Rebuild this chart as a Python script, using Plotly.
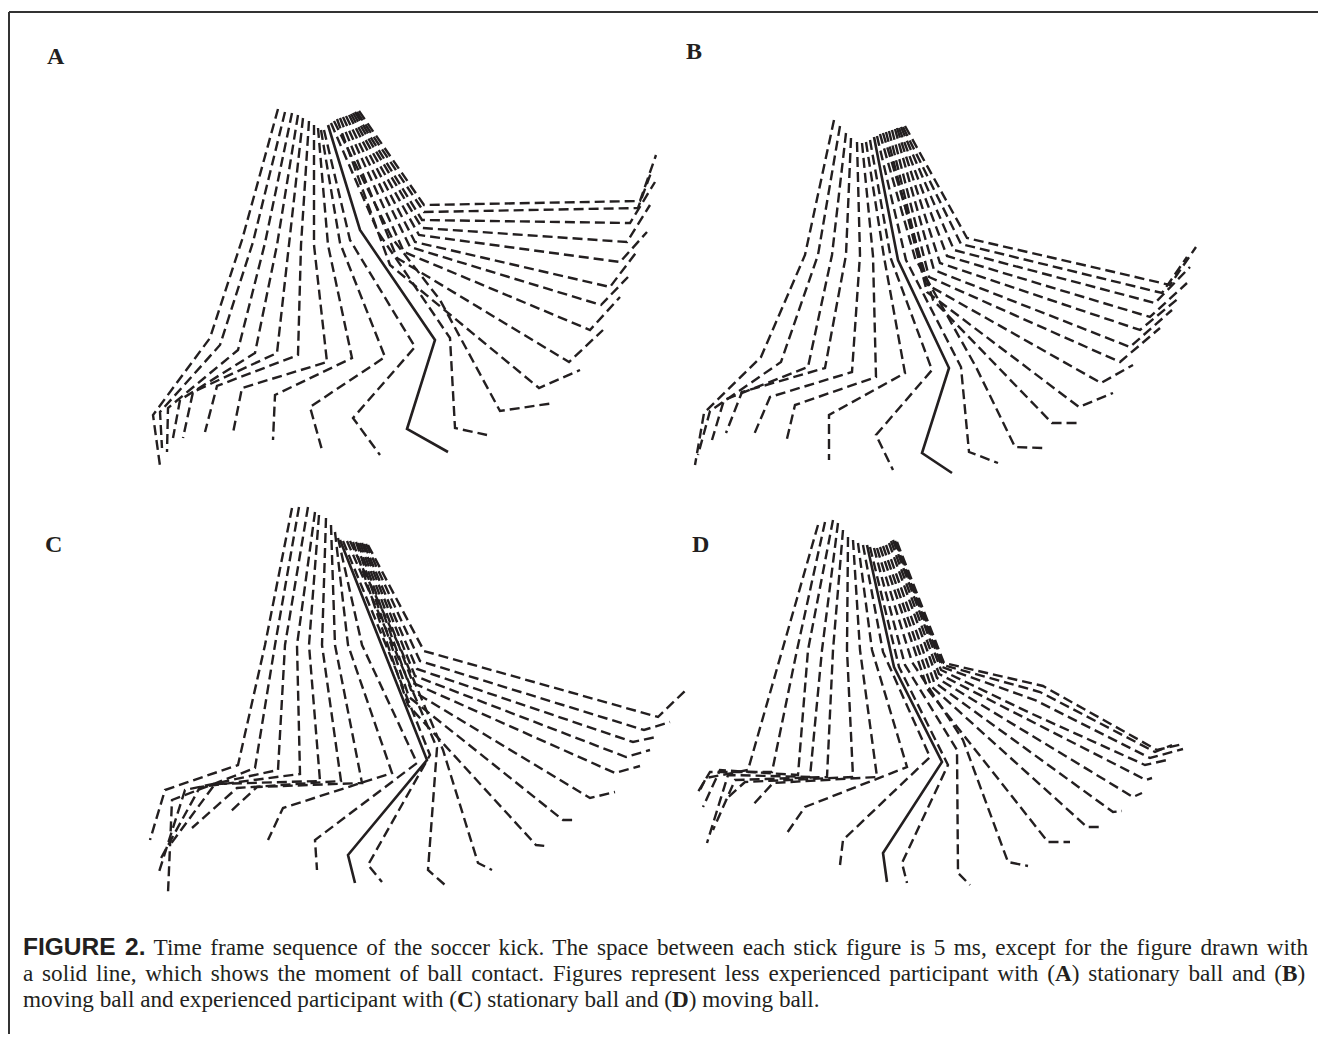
import plotly.graph_objects as go

INK = "#231f20"

# Each stick figure = polyline of joint markers (top -> toe), in drawing units.
# One list entry per time frame (5 ms apart); *_contact = frame at ball contact.

# ---------- Panel A : less experienced, stationary ball ----------
A_x = [
    [278, 242, 210, 153, 160], [285, 253, 220, 160, 162], [292, 265, 238, 168, 167],
    [298, 277, 255, 180, 173], [303, 289, 277, 193, 183], [309, 301, 298, 217, 205],
    [314, 314, 327, 242, 233], [318, 328, 352, 275, 273], [321, 340, 385, 310, 322],
    [324, 350, 415, 353, 380], [328, 360, 435, 407, 448], [331, 378, 450, 455, 487],
    [334, 392, 440, 500, 554], [337, 390, 539, 580], [340, 397, 569, 603],
    [343, 404, 590, 620], [346, 410, 601, 628], [349, 415, 610, 638],
    [351, 419, 620, 647], [353, 422, 627, 650], [355, 422, 630, 655],
    [357, 424, 638, 652], [359, 424, 640, 656],
]
A_y = [
    [109, 240, 338, 415, 466], [112, 242, 345, 412, 448], [113, 243, 350, 408, 452],
    [115, 245, 353, 400, 438], [118, 245, 353, 392, 438], [121, 245, 355, 386, 432],
    [125, 245, 362, 388, 433], [128, 245, 358, 395, 440], [130, 243, 357, 407, 450],
    [130, 240, 347, 418, 455], [125, 230, 340, 429, 452], [123, 232, 338, 428, 435],
    [121, 238, 300, 411, 403], [119, 265, 388, 370], [118, 258, 362, 330],
    [117, 252, 330, 297], [116, 247, 305, 277], [115, 242, 287, 250],
    [114, 235, 262, 232], [113, 228, 242, 205], [112, 220, 223, 182],
    [112, 212, 208, 170], [111, 205, 201, 155],
]
A_contact = 10

# ---------- Panel B : less experienced, moving ball ----------
B_x = [
    [834, 805, 761, 704, 695], [840, 818, 781, 710, 698], [846, 832, 808, 724, 712],
    [851, 846, 825, 742, 726], [857, 860, 852, 770, 753], [862, 873, 876, 795, 786],
    [866, 884, 905, 829, 829], [870, 891, 932, 876, 893], [874, 898, 949, 922, 952],
    [877, 906, 961, 969, 998], [880, 915, 976, 1015, 1043], [883, 933, 1052, 1081],
    [886, 927, 1079, 1113], [889, 926, 1101, 1133], [892, 929, 1120, 1160],
    [895, 934, 1130, 1172], [897, 940, 1140, 1180], [899, 947, 1150, 1187],
    [901, 954, 1155, 1190], [903, 961, 1162, 1187], [905, 967, 1170, 1196],
]
B_y = [
    [120, 255, 357, 413, 465], [126, 255, 362, 411, 455], [133, 255, 367, 400, 440],
    [138, 255, 368, 392, 433], [142, 255, 372, 397, 437], [143, 256, 377, 405, 443],
    [142, 257, 373, 415, 460], [140, 259, 370, 435, 470], [137, 260, 368, 453, 473],
    [136, 260, 367, 452, 463], [134, 258, 367, 447, 448], [133, 300, 423, 423],
    [132, 292, 407, 393], [131, 284, 383, 365], [130, 277, 362, 328],
    [129, 270, 347, 310], [128, 263, 330, 297], [128, 256, 317, 283],
    [127, 250, 303, 267], [127, 244, 293, 257], [126, 238, 285, 247],
]
B_contact = 8

# ---------- Panel C : experienced, stationary ball ----------
C_x = [
    [292, 265, 238, 165, 150], [299, 275, 255, 172, 168], [308, 285, 278, 185, 158],
    [315, 297, 300, 200, 160], [319, 309, 320, 215, 170], [326, 322, 341, 237, 192],
    [331, 335, 362, 257, 230], [335, 348, 392, 283, 268], [338, 362, 417, 315, 317],
    [340, 383, 427, 348, 355], [343, 388, 430, 368, 382], [347, 395, 437, 428, 445],
    [350, 402, 443, 478, 492], [353, 408, 536, 545], [356, 409, 563, 574],
    [358, 411, 590, 615], [360, 413, 615, 640], [362, 415, 626, 650],
    [364, 417, 633, 656], [366, 420, 644, 670], [368, 424, 658, 688],
]
C_y = [
    [508, 645, 765, 790, 840], [507, 645, 768, 800, 893], [507, 645, 770, 790, 875],
    [512, 645, 774, 787, 860], [515, 645, 781, 784, 845], [518, 645, 781, 788, 828],
    [525, 645, 783, 787, 812], [532, 645, 773, 808, 840], [538, 645, 763, 840, 870],
    [540, 648, 760, 855, 883], [541, 650, 755, 865, 882], [541, 650, 748, 870, 885],
    [541, 652, 750, 863, 870], [542, 705, 845, 846], [542, 697, 820, 820],
    [543, 690, 798, 792], [543, 683, 773, 766], [543, 676, 757, 750],
    [544, 669, 742, 737], [544, 661, 730, 722], [545, 651, 717, 688],
]
C_contact = 9

# ---------- Panel D : experienced, moving ball ----------
D_x = [
    [818, 782, 748, 706, 700], [825, 797, 772, 710, 698], [833, 808, 798, 720, 703],
    [838, 822, 810, 728, 707], [843, 833, 827, 735, 713], [848, 847, 853, 745, 725],
    [853, 860, 877, 773, 752], [858, 872, 907, 805, 787], [863, 883, 930, 843, 840],
    [867, 894, 942, 883, 887], [870, 899, 948, 902, 907], [874, 905, 957, 958, 970],
    [877, 912, 963, 1008, 1028], [880, 928, 1048, 1070], [883, 931, 1087, 1101],
    [886, 934, 1113, 1122], [889, 937, 1133, 1142], [891, 939, 1146, 1152],
    [893, 941, 1028, 1145, 1167], [895, 942, 1035, 1150, 1183],
    [896, 943, 1040, 1155, 1172], [897, 944, 1043, 1157, 1183],
]
D_y = [
    [525, 650, 770, 778, 790], [522, 650, 772, 772, 792], [520, 650, 775, 770, 807],
    [523, 650, 777, 775, 843], [530, 650, 777, 780, 830], [537, 650, 777, 782, 800],
    [540, 650, 777, 783, 806], [543, 650, 767, 807, 833], [545, 652, 757, 840, 865],
    [545, 667, 762, 853, 882], [547, 667, 765, 863, 883], [548, 665, 750, 873, 885],
    [548, 662, 740, 862, 866], [547, 690, 842, 842], [546, 686, 827, 827],
    [545, 682, 812, 811], [543, 678, 797, 793], [541, 674, 780, 778],
    [540, 670, 712, 765, 760], [541, 667, 700, 758, 749],
    [542, 665, 692, 752, 745], [542, 663, 686, 750, 744],
]
D_contact = 9

panel_labels = ["A", "B", "C", "D"]
label_pos = [(56, 56), (694, 51), (53, 544), (700, 544)]

caption_lines = [
    '<span style="word-spacing:2.7px"><span style="font-family:\'Liberation Sans\', Arial, sans-serif;'
    'font-size:24.5px"><b>FIGURE 2.</b></span> '
    'Time frame sequence of the soccer kick. The space between each stick figure is 5 ms, '
    'except for the figure drawn with</span>',
    '<span style="word-spacing:3px">a solid line, which shows the moment of ball contact. Figures represent '
    'less experienced participant with (<b>A</b>) stationary ball and (<b>B</b>)</span>',
    'moving ball and experienced participant with (<b>C</b>) stationary ball and (<b>D</b>) moving ball.',
]
caption_y = [946, 972.5, 999]

# The page body has an 8 px margin; the plotting area is placed so that
# one axis unit equals one pixel of the 1326 x 1042 canvas.
OFF = 8
W, H = 1326 - 2 * OFF, 1042 - 2 * OFF
fig = go.Figure()

for xs_all, ys_all, ci in [(A_x, A_y, A_contact), (B_x, B_y, B_contact),
                           (C_x, C_y, C_contact), (D_x, D_y, D_contact)]:
    for k, (xs, ys) in enumerate(zip(xs_all, ys_all)):
        solid = (k == ci)
        fig.add_trace(go.Scatter(
            x=xs, y=ys, mode="lines",
            line=dict(color=INK, width=2.6 if solid else 2.4,
                      dash="solid" if solid else "10px,5px"),
            hoverinfo="skip", showlegend=False))

annotations = []
for lab, (lx, ly) in zip(panel_labels, label_pos):
    annotations.append(dict(
        x=lx, y=ly, xref="x", yref="y", text=f"<b>{lab}</b>", showarrow=False,
        font=dict(family="Liberation Serif, Times New Roman, serif", size=24, color=INK),
        xanchor="center", yanchor="middle"))

for line, cy in zip(caption_lines, caption_y):
    annotations.append(dict(
        x=22, y=cy, xref="x", yref="y",
        text=line, showarrow=False, align="left", borderpad=0,
        font=dict(family="Liberation Serif, Times New Roman, serif", size=23.2, color=INK),
        xanchor="left", yanchor="middle"))

fig.update_layout(
    width=W, height=H,
    margin=dict(l=0, r=0, t=0, b=0),
    paper_bgcolor="white", plot_bgcolor="white",
    xaxis=dict(range=[OFF, OFF + W], visible=False, fixedrange=True),
    yaxis=dict(range=[OFF + H, OFF], visible=False, fixedrange=True),
    annotations=annotations,
    shapes=[
        dict(type="line", xref="x", yref="y", x0=9, x1=OFF + W, y0=12, y1=12,
             line=dict(color="#333333", width=2)),
        dict(type="line", xref="x", yref="y", x0=9, x1=9, y0=12, y1=OFF + H,
             line=dict(color="#333333", width=2)),
    ],
)

fig.write_html("out.html", config={"displayModeBar": False})
